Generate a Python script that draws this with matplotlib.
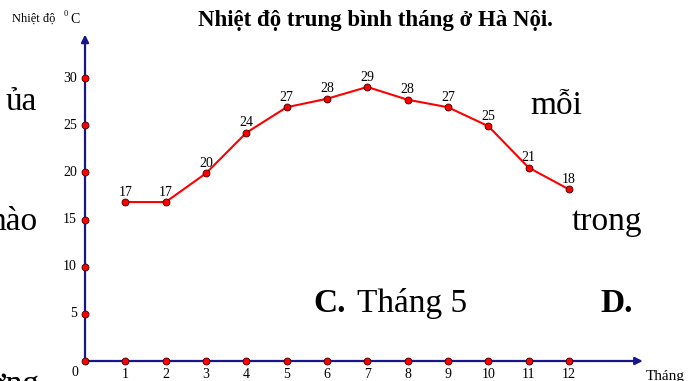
import matplotlib.pyplot as plt

plt.rcParams['font.family'] = ['Liberation Serif', 'DejaVu Serif']

# dữ liệu
months = [1, 2, 3, 4, 5, 6, 7, 8, 9, 10, 11, 12]
temps = [16.85, 16.85, 19.9, 24.2, 26.9, 27.8, 29.05, 27.7, 26.9, 24.9, 20.5, 18.2]
temp_labels = [17, 17, 20, 24, 27, 28, 29, 28, 27, 25, 21, 18]
y_ticks = [5, 10, 15, 20, 25, 30]

axis_color = '#17178a'

fig = plt.figure(figsize=(7, 3.81), dpi=100)
ax = fig.add_axes([0, 0, 1, 1])
ax.set_xlim(-2.108, 15.25)
ax.set_ylim(-2.12, 38.27)
ax.axis('off')

# trục có mũi tên
ax.annotate('', xy=(13.9, 0), xytext=(0, 0),
            arrowprops=dict(arrowstyle='-|>', color=axis_color, lw=1.6, mutation_scale=11))
ax.annotate('', xy=(0, 34.9), xytext=(0, 0),
            arrowprops=dict(arrowstyle='-|>', color=axis_color, lw=1.6, mutation_scale=11))

# chấm trên trục
ax.plot([0] + months, [0] * 13, 'o', color='red', mec='#400000', mew=0.6, ms=5, zorder=5)
ax.plot([0] * len(y_ticks), y_ticks, 'o', color='red', mec='#400000', mew=0.6, ms=5, zorder=5)

for m in months:
    ax.text(m, -1.4, str(m), ha='center', va='center', fontsize=10)
ax.text(-0.25, -1.2, '0', ha='center', va='center', fontsize=10)
for t in y_ticks:
    ax.text(-0.2, t, str(t), ha='right', va='center', fontsize=10)

# đường nhiệt độ
ax.plot(months, temps, '-', color='red', lw=1.5, zorder=4)
ax.plot(months, temps, 'o', color='red', mec='#400000', mew=0.6, ms=5, zorder=6)
for m, t, lab in zip(months, temps, temp_labels):
    ax.annotate(str(lab), (m, t), xytext=(0, 2.5), textcoords='offset points',
                ha='center', va='bottom', fontsize=10)

# nhãn trục
fig.text(0.017, 0.95, 'Nhiệt độ', fontsize=9, va='center')
fig.text(0.091, 0.962, '0', fontsize=6, va='center')
fig.text(0.1, 0.95, 'C', fontsize=10, va='center')
fig.text(0.923, 0.013, 'Tháng', fontsize=11, va='center')

fig.text(0.537, 0.945, 'Nhiệt độ trung bình tháng ở Hà Nội.', fontsize=16.5,
         fontweight='bold', ha='center', va='center')

# chữ của tài liệu phía sau
big = 24
fig.text(0.053, 0.711, 'ủa', fontsize=big, va='baseline', ha='right')
fig.text(0.757, 0.70, 'mỗi', fontsize=big, va='baseline')
fig.text(0.053, 0.396, 'nào', fontsize=big, va='baseline', ha='right')
fig.text(0.817, 0.396, 'trong', fontsize=big, va='baseline')
fig.text(0.447, 0.18, 'C.', fontsize=big, fontweight='bold', va='baseline')
fig.text(0.51, 0.18, 'Tháng 5', fontsize=big, va='baseline')
fig.text(0.858, 0.18, 'D.', fontsize=big, fontweight='bold', va='baseline')
fig.text(0.057, -0.032, 'ương', fontsize=big, va='baseline', ha='right')

fig.savefig('out.png', dpi=100)
